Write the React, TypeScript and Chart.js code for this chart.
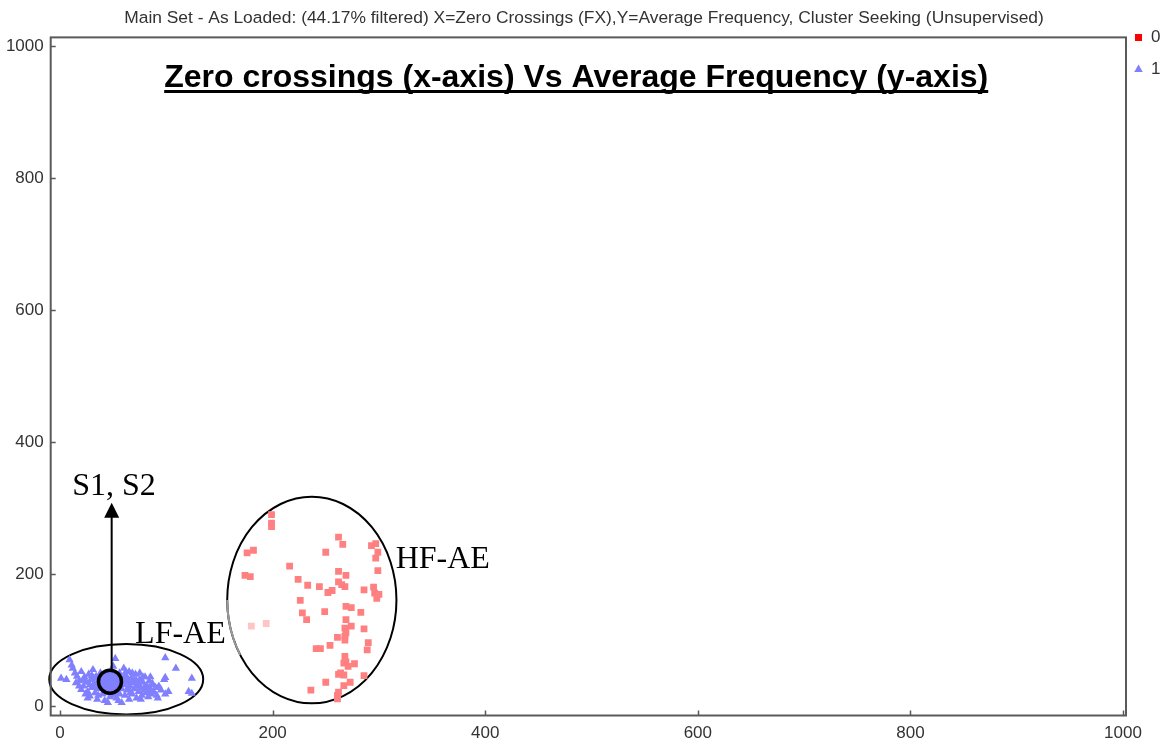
import React, { useEffect, useRef } from "react";
import { Chart, registerables } from "chart.js";

Chart.register(...registerables);

// ---------- text ----------
const chartTitle =
  "Main Set - As Loaded: (44.17% filtered) X=Zero Crossings (FX),Y=Average Frequency, Cluster Seeking (Unsupervised)";
const plotHeading = "Zero crossings (x-axis) Vs Average Frequency (y-axis)";
const seriesNames = ["0", "1"];
const annotationLabels = ["S1, S2", "LF-AE", "HF-AE"];

// ---------- ticks ----------
const xTicks = [0, 200, 400, 600, 800, 1000];
const yTicks = [0, 200, 400, 600, 800, 1000];

// ---------- data (Zero crossings, Average frequency) ----------
const class0Points: [number, number][] = [
  [199, 290], [199, 277], [199, 272], [262, 256], [266, 245], [293, 243], [297, 246],
  [299, 233], [297, 224], [176, 232], [182, 236], [250, 233], [216, 212], [299, 205],
  [262, 204], [269, 198], [174, 198], [179, 196], [224, 192], [262, 188], [265, 184],
  [268, 181], [233, 183], [244, 181], [286, 176], [295, 180], [296, 171], [298, 163],
  [300, 169], [252, 172], [256, 175], [226, 160], [269, 151], [274, 149], [249, 143],
  [228, 141], [283, 142], [232, 131], [269, 131], [274, 121], [268, 118], [269, 111],
  [268, 106], [268, 100], [286, 117], [261, 104], [254, 92], [290, 96], [289, 85],
  [241, 87], [245, 87], [268, 75], [269, 67], [271, 60], [267, 65], [277, 64],
  [264, 50], [267, 47], [262, 48], [286, 46], [273, 36], [267, 31], [250, 36],
  [236, 24], [262, 21], [261, 16], [261, 11],
];
const class0FadedPoints: [number, number][] = [[180, 121], [194, 125]];

const class1Points: [number, number][] = [
  [1, 42], [6, 40], [9, 70], [11, 62], [12, 57], [52, 72], [60, 57], [62, 52],
  [99, 73], [109, 57], [124, 42], [99, 43], [98, 40], [102, 22], [99, 18], [121, 22],
  [124, 19], [92, 12],
  [14, 50], [16, 45], [18, 38], [20, 52], [22, 30], [23, 44], [25, 36], [26, 22],
  [27, 48], [28, 15], [29, 40], [30, 28], [31, 55], [32, 34], [33, 20], [34, 45],
  [35, 10], [36, 38], [37, 26], [38, 50], [39, 32], [40, 18], [41, 42], [42, 8],
  [43, 28], [44, 36], [45, 48], [46, 22], [47, 14], [48, 40], [49, 30], [50, 60],
  [51, 25], [52, 44], [53, 12], [54, 35], [55, 20], [56, 50], [57, 28], [58, 5],
  [59, 40], [60, 32], [61, 16], [62, 46], [63, 24], [64, 38], [65, 10], [66, 30],
  [67, 42], [68, 18], [69, 35], [70, 26], [71, 48], [72, 12], [73, 32], [74, 22],
  [75, 40], [76, 28], [77, 16], [78, 36], [79, 24], [80, 44], [81, 20], [82, 30],
  [83, 14], [84, 38], [85, 26], [86, 18], [87, 34], [88, 22], [90, 28], [91, 16],
  [93, 30], [95, 24],
  [20, 25], [24, 18], [28, 32], [32, 42], [36, 16], [40, 30], [44, 20], [48, 52],
  [52, 34], [56, 18], [60, 42], [64, 28], [68, 50], [72, 38], [76, 10], [80, 30],
  [84, 22], [18, 30], [22, 40], [26, 12], [30, 46], [34, 28], [38, 40], [42, 24],
  [46, 34], [50, 16], [54, 44], [58, 26], [62, 36], [66, 20], [70, 40], [74, 30],
  [78, 44], [82, 24], [86, 32], [15, 35], [45, 5], [55, 8], [65, 52], [75, 50],
  [85, 44],
];

// ---------- styles ----------
const class0Color = "#ff8080";
const class0FadedColor = "#ffc4c4";
const class1Color = "#8080ff";
const legendColors = ["#ff0000", "#8080ff"];
const axisColor = "#5a5a5a";
const textColor = "#333333";

// annotation geometry in data units
const ellipses = [
  { cx: 62.3, cy: 40.6, rx: 72.4, ry: 53.3, fade: false },
  { cx: 236.9, cy: 160.6, rx: 79.6, ry: 156.5, fade: true },
];
const marker = { x: 47, y: 36.8, r: 11.5 };
const arrow = { x: 48.6, yTip: 308 };
const labelPos = [
  { x: 50.8, y: 319.7 },
  { x: 113.3, y: 95.5 },
  { x: 360.1, y: 209 },
];
const headingPos = { x: 485.6, y: 938 };

const annotationPlugin = {
  id: "annotations",
  beforeDatasetsDraw(chart: any) {
    const { ctx, scales } = chart;
    const xs = scales.x, ys = scales.y;
    ctx.save();
    ctx.lineWidth = 2;
    for (const e of ellipses) {
      const cx = xs.getPixelForValue(e.cx);
      const cy = ys.getPixelForValue(e.cy);
      const rx = Math.abs(xs.getPixelForValue(e.cx + e.rx) - cx);
      const ry = Math.abs(ys.getPixelForValue(e.cy + e.ry) - cy);
      ctx.strokeStyle = "#000";
      ctx.beginPath();
      ctx.ellipse(cx, cy, rx, ry, 0, 0, Math.PI * 2);
      ctx.stroke();
      if (e.fade) {
        ctx.strokeStyle = "#9a9a9a";
        ctx.beginPath();
        ctx.ellipse(cx, cy, rx, ry, 0, Math.PI - 0.56, Math.PI);
        ctx.stroke();
      }
    }
    ctx.restore();
  },
  afterDatasetsDraw(chart: any) {
    const { ctx, scales } = chart;
    const xs = scales.x, ys = scales.y;
    ctx.save();
    // arrow
    const ax = xs.getPixelForValue(arrow.x);
    const tipY = ys.getPixelForValue(arrow.yTip);
    const mx = xs.getPixelForValue(marker.x);
    const my = ys.getPixelForValue(marker.y);
    ctx.strokeStyle = "#000";
    ctx.fillStyle = "#000";
    ctx.lineWidth = 2;
    ctx.beginPath();
    ctx.moveTo(ax, my - marker.r);
    ctx.lineTo(ax, tipY + 14);
    ctx.stroke();
    ctx.beginPath();
    ctx.moveTo(ax, tipY);
    ctx.lineTo(ax - 7.5, tipY + 15);
    ctx.lineTo(ax + 7.5, tipY + 15);
    ctx.closePath();
    ctx.fill();
    // circle marker
    ctx.beginPath();
    ctx.arc(mx, my, marker.r, 0, Math.PI * 2);
    ctx.fillStyle = class1Color;
    ctx.fill();
    ctx.lineWidth = 3.5;
    ctx.strokeStyle = "#000";
    ctx.stroke();
    // labels
    ctx.fillStyle = "#000";
    ctx.font = "32px 'Liberation Serif', 'Times New Roman', serif";
    ctx.textAlign = "center";
    ctx.textBaseline = "alphabetic";
    annotationLabels.forEach((t, i) => {
      ctx.fillText(t, xs.getPixelForValue(labelPos[i].x), ys.getPixelForValue(labelPos[i].y));
    });
    // heading
    ctx.font = "bold 32px 'Liberation Sans', Arial, sans-serif";
    const hx = xs.getPixelForValue(headingPos.x);
    const hy = ys.getPixelForValue(headingPos.y);
    ctx.fillText(plotHeading, hx, hy);
    const w = ctx.measureText(plotHeading).width;
    ctx.fillRect(hx - w / 2, hy + 3, w, 3);
    ctx.restore();
  },
  afterDraw(chart: any) {
    const { ctx, chartArea, scales } = chart;
    const { left, right, top, bottom } = chartArea;
    ctx.save();
    ctx.strokeStyle = axisColor;
    ctx.lineWidth = 2;
    ctx.strokeRect(left, top, right - left, bottom - top);
    ctx.lineWidth = 1.5;
    ctx.beginPath();
    for (const v of xTicks) {
      const px = Math.round(scales.x.getPixelForValue(v)) + 0.5;
      ctx.moveTo(px, bottom);
      ctx.lineTo(px, bottom - 5);
    }
    for (const v of yTicks) {
      const py = Math.round(scales.y.getPixelForValue(v)) + 0.5;
      ctx.moveTo(left, py);
      ctx.lineTo(left + 5, py);
    }
    ctx.stroke();
    ctx.restore();
  },
};

const legendShiftPlugin = {
  id: "legendShift",
  afterLayout(chart: any) {
    const lg = chart.legend;
    if (!lg) return;
    lg.left -= 6.5;
    lg.right -= 6.5;
    lg.top += 14;
    lg.bottom += 14;
  },
};

export default function App() {
  const canvasRef = useRef<HTMLCanvasElement | null>(null);

  useEffect(() => {
    document.body.style.margin = "0";
    document.documentElement.style.overflow = "hidden";
    const canvas = canvasRef.current;
    if (!canvas) return;
    const toXY = (p: [number, number]) => ({ x: p[0], y: p[1] });
    const redData = [...class0Points, ...class0FadedPoints].map(toXY);
    const blueData = class1Points.map(toXY);

    const chart = new Chart(canvas, {
      type: "scatter",
      data: {
        datasets: [
          {
            label: seriesNames[0],
            data: redData,
            pointStyle: "rect",
            pointRadius: 4.8,
            pointBorderWidth: 0,
            borderWidth: 0,
            backgroundColor: (c: any) =>
              c.dataIndex >= class0Points.length ? class0FadedColor : class0Color,
            borderColor: class0Color,
          },
          {
            label: seriesNames[1],
            data: blueData,
            pointStyle: "triangle",
            pointRadius: 4.8,
            pointBorderWidth: 0,
            borderWidth: 0,
            backgroundColor: class1Color,
            borderColor: class1Color,
          },
        ],
      },
      options: {
        animation: false,
        responsive: true,
        maintainAspectRatio: false,
        layout: { padding: 0 },
        plugins: {
          tooltip: { enabled: false },
          title: {
            display: true,
            text: chartTitle,
            color: textColor,
            font: { family: "'Liberation Sans', Arial, sans-serif", size: 17.4, weight: "normal" },
            padding: { top: 7.5, bottom: 9 },
          },
          legend: {
            display: true,
            position: "right",
            align: "start",
            maxWidth: 42,
            labels: {
              usePointStyle: true,
              boxWidth: 8,
              boxHeight: 7,
              padding: 15,
              color: textColor,
              font: { family: "'Liberation Sans', Arial, sans-serif", size: 17 },
              generateLabels: (ch: any) => {
                const items = (Chart.defaults.plugins.legend.labels as any).generateLabels(ch);
                return items.map((it: any, i: number) => ({
                  ...it,
                  fillStyle: legendColors[i],
                  strokeStyle: legendColors[i],
                  lineWidth: 0,
                }));
              },
            },
          },
        },
        scales: {
          x: {
            type: "linear",
            min: -8.75,
            max: 1002.8,
            afterBuildTicks: (s: any) => {
              s.ticks = xTicks.map((v) => ({ value: v }));
            },
            afterFit: (s: any) => {
              s.height = 31.5;
            },
            grid: { display: false, drawTicks: false },
            border: { display: false },
            ticks: {
              color: textColor,
              padding: 8,
              maxRotation: 0,
              font: { family: "'Liberation Sans', Arial, sans-serif", size: 17 },
              callback: (v: any) => String(v),
            },
          },
          y: {
            type: "linear",
            min: -14.4,
            max: 1013.2,
            afterBuildTicks: (s: any) => {
              s.ticks = yTicks.map((v) => ({ value: v }));
            },
            afterFit: (s: any) => {
              s.width = 50.7;
            },
            grid: { display: false, drawTicks: false },
            border: { display: false },
            ticks: {
              color: textColor,
              padding: 7,
              font: { family: "'Liberation Sans', Arial, sans-serif", size: 17 },
              callback: (v: any) => String(v),
            },
          },
        },
      },
      plugins: [annotationPlugin, legendShiftPlugin],
    } as any);

    return () => chart.destroy();
  }, []);

  return (
    <div style={{ position: "relative", width: "1168px", height: "747px" }}>
      <canvas ref={canvasRef} />
    </div>
  );
}
